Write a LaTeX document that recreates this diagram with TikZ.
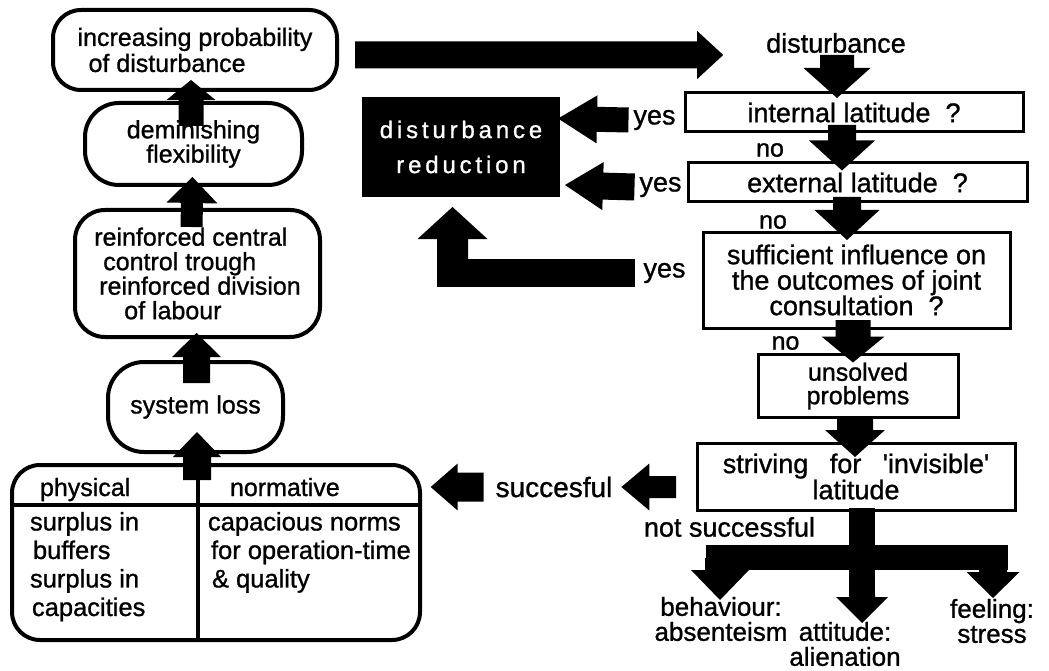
\documentclass[tikz,border=0pt]{standalone}
\usepackage{fontspec}
\setmainfont{Liberation Sans}[FakeBold=1]
\usetikzlibrary{calc}

% Block arrow: start, tip, shaft half width, head half width, head length
\newcommand{\blockarrow}[5]{%
  \coordinate (ba-base) at ($#2!#5!#1$);
  \fill ($#1!#3!90:#2$) -- ($(ba-base)!#3!90:#2$) -- ($(ba-base)!#4!90:#2$) -- #2
     -- ($(ba-base)!#4!-90:#2$) -- ($(ba-base)!#3!-90:#2$) -- ($#1!#3!-90:#2$) -- cycle;}

\begin{document}
\begin{tikzpicture}[x=1pt,y=-1pt,
  every node/.style={inner sep=0pt,outer sep=0pt},
  lt/.style={font=\fontsize{25}{26}\selectfont},
  rt/.style={font=\fontsize{27}{26}\selectfont},
  lab/.style={font=\fontsize{26}{25}\selectfont,align=center},
  rbox/.style={draw,line width=4pt,rounded corners=#1,align=center},
  sbox/.style={draw,line width=3pt,align=center}]
\useasboundingbox (0,0) rectangle (1049,671);

% left column: causes
\node[rbox=28pt,lt,align=left,minimum width=284pt,minimum height=80pt] (b1) at (195,50)
  {increasing probability\\\hspace*{11pt}of disturbance};
\node[rbox=34pt,minimum width=217pt,minimum height=82pt,font=\fontsize{25}{23}\selectfont] (b2) at (193.5,144)
  {deminishing\\flexibility};
\node[rbox=30pt,align=left,minimum width=245pt,minimum height=127pt,font=\fontsize{25}{24.5}\selectfont] (b3) at (197.5,273.5)
  {reinforced central\\\hspace*{9pt}control trough\\\hspace*{5pt}reinforced division\\\hspace*{30pt}of labour};
\node[rbox=36pt,lt,minimum width=175pt,minimum height=90pt] (b4) at (195.5,407) {system loss};
\node[rbox=28pt,minimum width=408pt,minimum height=175pt] (tb) at (216,552.5) {};
\draw[line width=4pt] ($(tb.north west)+(0,40)$) -- ($(tb.north east)+(0,40)$);
\draw[line width=4pt] ($(tb.north west)+(186,0)$) -- ($(tb.south west)+(186,0)$);
\node[lt,anchor=base west] (ph) at (40,496) {physical};
\node[lt,anchor=base west] (nm) at (230,496) {normative};
\node[anchor=north west,align=left,font=\fontsize{25.5}{28.5}\selectfont] (pl) at (30,512)
  {surplus in\\\hspace*{3pt}buffers\\surplus in\\\hspace*{2pt}capacities};
\node[anchor=north west,align=left,font=\fontsize{25.5}{28.5}\selectfont] (nl) at (208,512)
  {capacious norms\\\hspace*{3pt}for operation-time\\\hspace*{4pt}\& quality};

% right column: handling of a disturbance
\node[rt] (dist) at (836,43) {disturbance};
\node[sbox,rt,minimum width=338pt,minimum height=39pt] (q1) at (854,112.5) {internal latitude~~?};
\node[sbox,rt,minimum width=339pt,minimum height=39pt] (q2) at (857.5,182.5) {external latitude~~?};
\node[sbox,minimum width=307pt,minimum height=96pt,font=\fontsize{27}{25.5}\selectfont] (q3) at (856.5,280)
  {sufficient influence on\\the outcomes of joint\\consultation~~?};
\node[sbox,minimum width=200pt,minimum height=63pt,font=\fontsize{25}{23.5}\selectfont] (up) at (858,386)
  {unsolved\\problems};
\node[sbox,minimum width=318pt,minimum height=67pt,font=\fontsize{27}{23.5}\selectfont] (st) at (856,476.5)
  {striving\hspace{14pt} for\hspace{14pt} \textquotesingle invisible\textquotesingle\\latitude};
\node[fill=black,text=white,align=center,minimum width=198pt,minimum height=100pt,
  font=\fontsize{24}{35}\selectfont\addfontfeatures{LetterSpace=16}] (dr) at (461,147)
  {disturbance\\reduction};

\node[rt] (y1) at (654.5,120) {yes};
\node[rt] (y2) at (660.5,187) {yes};
\node[rt] (y3) at (664.5,273) {yes};
\node[font=\fontsize{25}{25}\selectfont] (n1) at (770,150) {no};
\node[font=\fontsize{25}{25}\selectfont] (n2) at (773,222) {no};
\node[font=\fontsize{25}{25}\selectfont] (n3) at (785.5,343) {no};
\node[font=\fontsize{28}{28}\selectfont] (sc) at (554,487) {succesful};
\node[rt] (ns) at (729.5,527) {not successful};
\node[lab] (be) at (721,619) {behaviour:\\absenteism};
\node[lab] (at) at (845,644) {attitude:\\alienation};
\node[lab] (fe) at (992,621) {feeling:\\stress};

% left column arrows
\blockarrow{([xshift=-2.5pt,yshift=-23pt]b2.north)}{([xshift=-4pt,yshift=10pt]b1.south)}{12.5pt}{24.5pt}{20pt}
\blockarrow{([xshift=-6pt,yshift=-17pt]b3.north)}{([xshift=-1pt,yshift=8pt]b2.south)}{11pt}{25.5pt}{26pt}
\blockarrow{([xshift=1pt,yshift=-21pt]b4.north)}{([xshift=-1pt,yshift=4pt]b3.south)}{13.5pt}{24.5pt}{24pt}
\blockarrow{([xshift=-19pt,yshift=-15pt]tb.north)}{([xshift=1.5pt,yshift=20pt]b4.south)}{14pt}{24pt}{25pt}

% long arrow to the disturbance
\blockarrow{($(b1.east)+(18,5)$)}{($(dist.west)+(-43,12)$)}{13.5pt}{24pt}{26pt}

% right column arrows
\blockarrow{([xshift=1pt,yshift=-2pt]dist.south)}{([xshift=-17pt,yshift=-5pt]q1.north)}{17pt}{33.5pt}{30pt}
\blockarrow{([xshift=-12pt,yshift=7pt]q1.south)}{([xshift=-15.5pt,yshift=-7.5pt]q2.north)}{14pt}{33pt}{30pt}
\blockarrow{([xshift=-10.5pt,yshift=5pt]q2.south)}{([xshift=-9.5pt,yshift=-8pt]q3.north)}{14pt}{32.5pt}{30pt}
\blockarrow{([xshift=-3.5pt,yshift=8pt]q3.south)}{([xshift=-5pt,yshift=-8pt]up.north)}{17.5pt}{31.5pt}{26pt}
\blockarrow{([xshift=-3pt]up.south)}{([xshift=-1pt,yshift=-14pt]st.north)}{18pt}{30pt}{27pt}

% yes arrows to disturbance reduction
\blockarrow{([xshift=-5pt]y1.west)}{([xshift=-2pt,yshift=28.5pt]dr.east)}{12.5pt}{24pt}{39pt}
\blockarrow{([xshift=-5pt]y2.west)}{([xshift=5pt,yshift=-38pt]dr.east)}{13.5pt}{24pt}{38pt}
\fill ($(dr.south)+(-24,62)$) rectangle ([xshift=-9pt,yshift=-14pt]y3.west);
\blockarrow{($(dr.south)+(-8.5,89)$)}{([xshift=-8.5pt,yshift=-10pt]dr.south)}{15.5pt}{35pt}{32pt}

% success branch
\blockarrow{([xshift=-12pt]sc.west)}{([xshift=-65pt]sc.west)}{14.5pt}{23.5pt}{27pt}
\blockarrow{([xshift=-21pt,yshift=-10.5pt]st.west)}{([xshift=9pt]sc.east)}{11pt}{23.5pt}{28pt}

% failure fork
\coordinate (fk) at ($(st.south)+(6,0)$);
\fill ($(fk)+(-13,-2)$) rectangle ($(fk)+(13,88)$);
\fill ($(fk)+(-156,35)$) rectangle ($(fk)+(146,60)$);
\blockarrow{($(fk)+(0,85)$)}{($(fk)+(0,113)$)}{13pt}{26pt}{26pt}
\blockarrow{($(fk)+(-142,48)$)}{($(fk)+(-142,90)$)}{15pt}{29pt}{30pt}
\blockarrow{($(fk)+(131,48)$)}{($(fk)+(131,88)$)}{14pt}{26.5pt}{26pt}
\end{tikzpicture}
\end{document}
